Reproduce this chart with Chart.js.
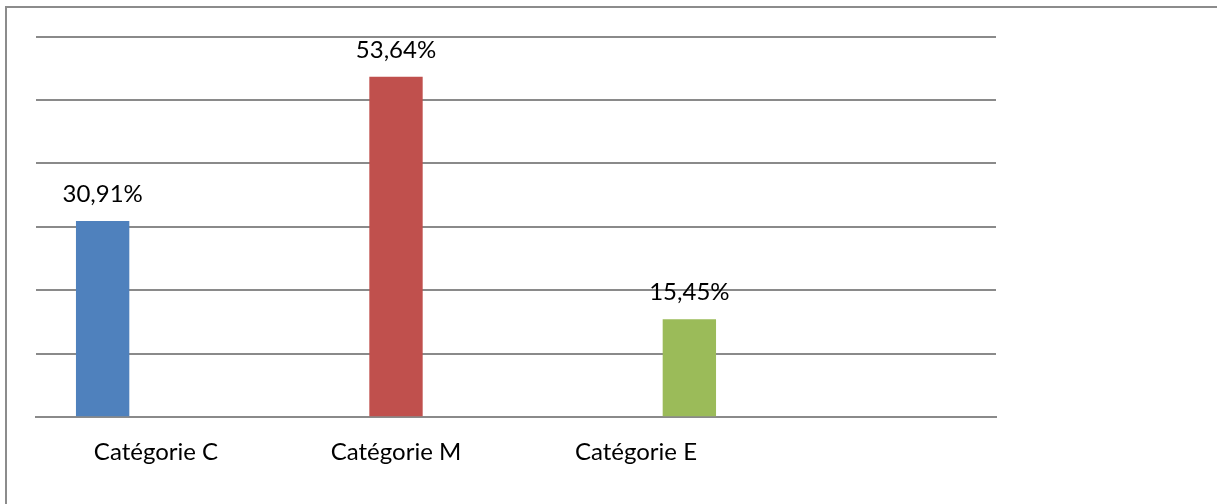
<!DOCTYPE html>
<html lang="fr">
<head>
<meta charset="utf-8">
<title>Répartition par catégorie</title>
<script src="https://cdn.jsdelivr.net/npm/chart.js@4.4.1/dist/chart.umd.min.js"></script>
<style>
  html, body { margin: 0; padding: 0; background: #fff; overflow: hidden; }
  .frame {
    position: absolute; left: 5px; top: 6px; right: -20px; bottom: -20px;
    border: 2px solid #8c8c8c;
  }
  .wrap { position: absolute; left: 0; top: 0; width: 1217px; height: 504px; }
</style>
</head>
<body>
<div class="frame"></div>
<div class="wrap"><canvas id="repartition"></canvas></div>
<script>
/* ── Données ── */
const categories = ['Catégorie C', 'Catégorie M', 'Catégorie E', ''];
const seriesNames = ['Catégorie C', 'Catégorie M', 'Catégorie E'];
const seriesValues = [30.91, 53.64, 15.45];
const seriesColors = ['#4f81bd', '#c0504d', '#9bbb59'];
const yTicks = [0, 10, 20, 30, 40, 50, 60];

const GRID = '#8a8a8a';
const FONT = 'Lato, "Open Sans", sans-serif';

// chaque série n'a de valeur que dans sa propre catégorie
const datasets = seriesNames.map((name, i) => ({
  label: name,
  data: categories.map((_, j) => (j === i ? seriesValues[i] : null)),
  backgroundColor: seriesColors[i],
  borderWidth: 0,
  categoryPercentage: 0.667,
  barPercentage: 1.0,
}));

// ── Étiquettes de valeur au-dessus des barres ──
const valueLabels = {
  id: 'valueLabels',
  afterDatasetsDraw(chart) {
    const ctx = chart.ctx;
    ctx.save();
    ctx.font = '24px ' + FONT;
    ctx.fillStyle = '#000';
    ctx.textAlign = 'center';
    ctx.textBaseline = 'alphabetic';
    chart.data.datasets.forEach((ds, i) => {
      chart.getDatasetMeta(i).data.forEach((bar, j) => {
        const v = ds.data[j];
        if (v == null) return;
        const txt = v.toFixed(2).replace('.', ',') + '%';
        ctx.fillText(txt, bar.x, bar.y - 19);
      });
    });
    ctx.restore();
  }
};

new Chart(document.getElementById('repartition'), {
  type: 'bar',
  data: { labels: categories, datasets },
  plugins: [valueLabels],
  options: {
    responsive: true,
    maintainAspectRatio: false,
    animation: false,
    layout: { padding: { left: 36, right: 221, top: 36.5, bottom: 17.2 } },
    plugins: { legend: { display: false }, tooltip: { enabled: false } },
    scales: {
      x: {
        grid: { display: false, drawTicks: false },
        border: { display: true, color: GRID, width: 2 },
        ticks: {
          color: '#000', padding: 20.4, maxRotation: 0, autoSkip: false,
          font: { family: FONT, size: 24 }
        }
      },
      y: {
        min: yTicks[0],
        max: yTicks[yTicks.length - 1],
        afterBuildTicks: axis => { axis.ticks = yTicks.map(v => ({ value: v })); },
        grid: { color: GRID, lineWidth: 2, drawTicks: false },
        border: { display: false },
        ticks: { display: false }
      }
    }
  }
});
</script>
</body>
</html>
